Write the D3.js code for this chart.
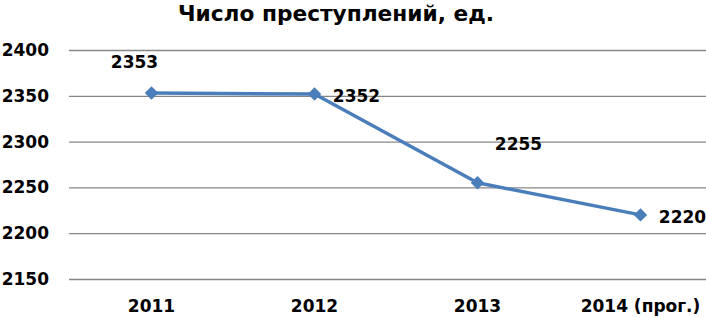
<!DOCTYPE html>
<html><head><meta charset="utf-8">
<script src="https://cdn.jsdelivr.net/npm/d3@7"></script>
<style>body{margin:0;background:#fff}svg{display:block}</style>
</head><body>
<svg id="c" width="706" height="318"></svg>
<script>
const title = "Число преступлений, ед.";
const categories = ["2011", "2012", "2013", "2014 (прог.)"];
const values = [2353, 2352, 2255, 2220];
const yTicks = [2150, 2200, 2250, 2300, 2350, 2400];
const labelPos = ["above", "right", "aboveRight", "right"];

const svg = d3.select("#c");
const font = "'DejaVu Sans', sans-serif";
const x = d3.scaleBand().domain(categories).range([70, 722]);
const y = d3.scaleLinear().domain([2150, 2400]).range([279, 50]);

svg.append("text").attr("x", 336).attr("y", 20.5).attr("text-anchor", "middle")
  .attr("font-family", font).attr("font-weight", "bold").attr("font-size", 22)
  .attr("textLength", 316).attr("lengthAdjust", "spacingAndGlyphs")
  .attr("fill", "#000").text(title);

const yAxis = svg.append("g").attr("transform", "translate(69,0)")
  .call(d3.axisLeft(y).tickValues(yTicks).tickSize(-640).tickPadding(20).tickFormat(d3.format("d")));
yAxis.select(".domain").remove();
yAxis.selectAll("line").attr("stroke", "#878787").attr("stroke-width", 1.3);
yAxis.selectAll("text").attr("font-family", font).attr("font-weight", "bold")
  .attr("font-size", 17).attr("fill", "#000");

const xAxis = svg.append("g").attr("transform", "translate(0,279)")
  .call(d3.axisBottom(x).tickSize(0).tickPadding(21));
xAxis.select(".domain").remove();
xAxis.selectAll("text").attr("font-family", font).attr("font-weight", "bold")
  .attr("font-size", 17).attr("fill", "#000");

const cx = d => x(d) + x.bandwidth() / 2;
const line = d3.line().x((d, i) => cx(categories[i])).y(d => y(d));
svg.append("path").datum(values).attr("d", line).attr("fill", "none")
  .attr("stroke", "#4A7EBB").attr("stroke-width", 3.5).attr("stroke-linejoin", "round");

svg.selectAll(".m").data(values).enter().append("path")
  .attr("d", d3.symbol().type(d3.symbolSquare).size(90))
  .attr("transform", (d, i) => `translate(${cx(categories[i])},${y(d)}) rotate(45)`)
  .attr("fill", "#4A7EBB");

svg.selectAll(".l").data(values).enter().append("text")
  .attr("font-family", font).attr("font-weight", "bold").attr("font-size", 17).attr("fill", "#000")
  .attr("x", (d, i) => {
    const p = labelPos[i], c = cx(categories[i]);
    return p === "above" ? c - 17 : p === "aboveRight" ? c + 41 : c + 42;
  })
  .attr("y", (d, i) => {
    const p = labelPos[i];
    return p === "above" ? y(d) - 30 : p === "aboveRight" ? y(d) - 38 : y(d) + 3;
  })
  .attr("text-anchor", "middle").attr("dominant-baseline", "middle")
  .text(d => d);
</script>
</body></html>
